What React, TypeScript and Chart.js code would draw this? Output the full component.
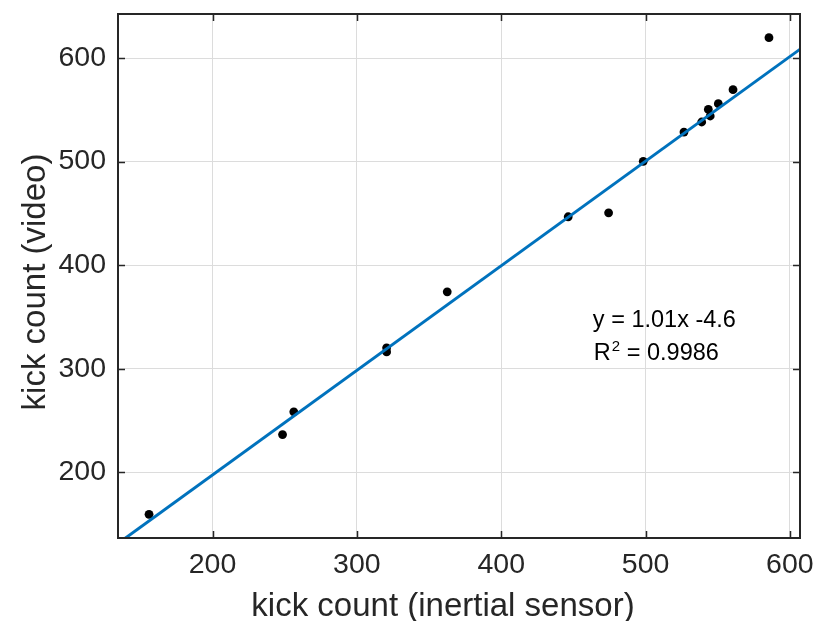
import React, { useEffect, useRef } from 'react';
import { Chart, registerables } from 'chart.js';

Chart.register(...registerables);

// ---- data ----
const sensorCounts = [156, 248.5, 256.3, 320.6, 320.6, 362.6, 446.4, 474.4, 498.4, 526.6, 538.9, 543.5, 544.8, 550.4, 560.6, 585.5];
const videoCounts = [159.4, 236.4, 258.3, 320.1, 316.2, 374.2, 446.7, 450.5, 500.2, 528.5, 538.2, 550.4, 544.0, 555.9, 569.4, 619.6];
const fitLineX = [130, 612];
const fitLineY = [126.7, 613.5];
const xTickValues = [200, 300, 400, 500, 600];
const yTickValues = [200, 300, 400, 500, 600];
const xLimits = [134.5, 607];
const yLimits = [136.5, 642.5];
const xTitle = 'kick count (inertial sensor)';
const yTitle = 'kick count (video)';
const equationText = 'y = 1.01x -4.6';
const r2Label = 'R';
const r2Sup = '2';
const r2Value = ' = 0.9986';
const equationAnchor = [463.5, 340];

const FONT = '"Liberation Sans", Arial, Helvetica, sans-serif';
const TEXT = '#262626';

const zeroPad = (s: any) => {
  s.paddingTop = 0;
  s.paddingBottom = 0;
  s.paddingLeft = 0;
  s.paddingRight = 0;
};

const boxPlugin = {
  id: 'matlabBox',
  afterDraw(chart: any) {
    const { ctx, chartArea: a, scales } = chart;
    const xs = scales.x;
    const ys = scales.y;
    ctx.save();
    ctx.strokeStyle = TEXT;
    ctx.lineWidth = 1.5;
    const tl = 7;
    ctx.beginPath();
    xTickValues.forEach((v) => {
      const px = Math.round(xs.getPixelForValue(v)) + 0.5;
      ctx.moveTo(px, a.bottom);
      ctx.lineTo(px, a.bottom - tl);
      ctx.moveTo(px, a.top);
      ctx.lineTo(px, a.top + tl);
    });
    yTickValues.forEach((v) => {
      const py = Math.round(ys.getPixelForValue(v)) + 0.5;
      ctx.moveTo(a.left, py);
      ctx.lineTo(a.left + tl, py);
      ctx.moveTo(a.right, py);
      ctx.lineTo(a.right - tl, py);
    });
    ctx.stroke();
    ctx.lineWidth = 2;
    ctx.strokeRect(a.left, a.top, a.right - a.left, a.bottom - a.top);

    // axis titles
    ctx.fillStyle = TEXT;
    ctx.font = `33px ${FONT}`;
    ctx.textAlign = 'center';
    ctx.textBaseline = 'middle';
    ctx.fillText(xTitle, 443, 606.5);
    ctx.save();
    ctx.translate(35.5, 282);
    ctx.rotate(-Math.PI / 2);
    ctx.fillText(yTitle, 0, 0);
    ctx.restore();

    // equation annotation
    const ax = xs.getPixelForValue(equationAnchor[0]);
    const ay = ys.getPixelForValue(equationAnchor[1]);
    ctx.fillStyle = '#000';
    ctx.textBaseline = 'alphabetic';
    ctx.textAlign = 'left';
    ctx.font = `23.5px ${FONT}`;
    ctx.fillText(equationText, ax, ay);
    const y2 = ay + 33;
    ctx.fillText(r2Label, ax + 1, y2);
    const rw = ctx.measureText(r2Label).width;
    ctx.font = `15px ${FONT}`;
    ctx.fillText(r2Sup, ax + 1 + rw + 1, y2 - 9);
    const sw = ctx.measureText(r2Sup).width;
    ctx.font = `23.5px ${FONT}`;
    ctx.fillText(r2Value, ax + 1 + rw + 1 + sw, y2);
    ctx.restore();
  },
};

export default function App() {
  const ref = useRef<HTMLCanvasElement | null>(null);
  useEffect(() => {
    if (!ref.current) return;
    const points = sensorCounts.map((x, i) => ({ x, y: videoCounts[i] }));
    const fit = fitLineX.map((x, i) => ({ x, y: fitLineY[i] }));
    const chart = new Chart(ref.current, {
      type: 'scatter',
      data: {
        datasets: [
          {
            type: 'line',
            data: fit,
            borderColor: '#0072BD',
            borderWidth: 3,
            pointRadius: 0,
            fill: false,
          } as any,
          {
            data: points,
            backgroundColor: '#000',
            borderColor: '#000',
            pointRadius: 4.4,
            pointBorderWidth: 0,
          },
        ],
      },
      options: {
        responsive: false,
        animation: false,
        events: [],
        layout: { padding: { top: 14, right: 15, left: 0, bottom: 0 } },
        plugins: { legend: { display: false }, tooltip: { enabled: false } },
        scales: {
          x: {
            type: 'linear',
            min: xLimits[0],
            max: xLimits[1],
            afterBuildTicks: (s: any) => {
              s.ticks = xTickValues.map((v) => ({ value: v }));
            },
            afterFit: (s: any) => {
              s.height = 83;
              zeroPad(s);
            },
            grid: { color: '#dcdcdc', lineWidth: 1, drawTicks: false },
            border: { display: false },
            ticks: {
              padding: 10,
              color: TEXT,
              font: { family: FONT, size: 28.5 },
              maxRotation: 0,
              callback: (v: any) => String(v),
            },
          },
          y: {
            type: 'linear',
            min: yLimits[0],
            max: yLimits[1],
            afterBuildTicks: (s: any) => {
              s.ticks = yTickValues.map((v) => ({ value: v }));
            },
            afterFit: (s: any) => {
              s.width = 118;
              zeroPad(s);
            },
            grid: { color: '#dcdcdc', lineWidth: 1, drawTicks: false },
            border: { display: false },
            ticks: {
              padding: 12,
              color: TEXT,
              font: { family: FONT, size: 28.5 },
              callback: (v: any) => String(v),
            },
          },
        },
      },
      plugins: [boxPlugin],
    });
    return () => chart.destroy();
  }, []);
  return (
    <div style={{ position: 'fixed', left: 0, top: 0, width: 815, height: 621, background: '#fff' }}>
      <canvas ref={ref} width={815} height={621} style={{ display: 'block' }} />
    </div>
  );
}
